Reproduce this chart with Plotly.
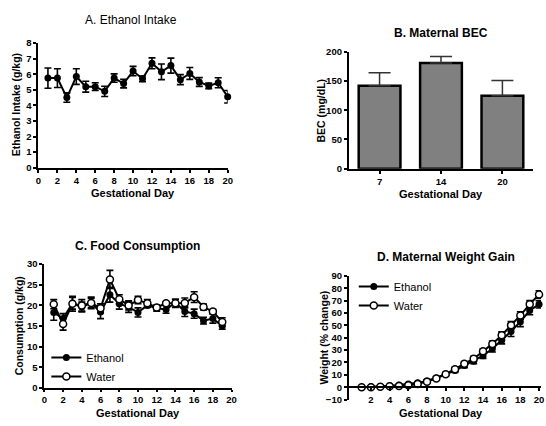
import plotly.graph_objects as go

W, H = 546, 426

# ---------- Data ----------
# A. Ethanol intake
days_a = list(range(1, 21))
eth_intake = [5.75, 5.75, 4.5, 5.85, 5.2, 5.2, 4.9, 5.75, 5.4, 6.2,
              5.7, 6.7, 6.15, 6.55, 5.65, 6.05, 5.5, 5.25, 5.45, 4.55]
eth_intake_err = [0.65, 0.6, 0.3, 0.5, 0.35, 0.25, 0.33, 0.27, 0.28, 0.3,
                  0.18, 0.35, 0.5, 0.48, 0.32, 0.38, 0.28, 0.18, 0.32, 0.4]

# B. Maternal BEC
bec_days = ["7", "14", "20"]
bec_vals = [142, 181, 125]
bec_err = [22, 11, 26]

# C. Food consumption
days_c = list(range(1, 20))
food_eth = [18.3, 16.8, 20.5, 19.6, 20.6, 18.4, 22.6, 20.4, 19.6, 18.3,
            20.0, 19.3, 19.0, 20.7, 18.5, 18.0, 16.3, 16.8, 15.0]
food_eth_err = [1.9, 1.2, 1.4, 1.2, 1.1, 1.6, 1.8, 1.3, 1.3, 1.1,
                0.5, 0.7, 0.9, 0.8, 1.2, 1.1, 0.8, 1.1, 0.8]
food_wat = [20.3, 15.5, 20.4, 20.0, 20.6, 19.3, 26.3, 21.5, 20.0, 21.3,
            20.5, 19.5, 20.5, 20.5, 20.6, 22.0, 19.6, 18.5, 16.0]
food_wat_err = [1.1, 1.5, 1.8, 1.4, 1.4, 1.1, 2.2, 1.1, 1.1, 0.9,
                0.9, 0.5, 0.4, 1.0, 1.2, 1.3, 0.7, 0.5, 1.0]

# D. Maternal weight gain
days_d = list(range(1, 21))
wt_eth = [0, 0.3, 0.5, 1.2, 1.8, 2.5, 3.5, 5.0, 7.5, 10.5,
          13.5, 17.5, 21.0, 25.5, 31.0, 38.0, 45.0, 53.0, 62.0, 67.0]
wt_eth_err = [0.3, 0.4, 0.5, 0.6, 0.7, 0.8, 0.9, 1.0, 1.2, 1.3,
              1.5, 1.7, 2.0, 2.2, 2.5, 3.0, 4.0, 4.0, 3.5, 3.0]
wt_wat = [0, 0, 0.3, 0.8, 1.0, 1.5, 2.5, 4.5, 7.0, 10.5,
          14.5, 19.0, 23.0, 29.0, 35.0, 42.0, 50.0, 58.0, 67.0, 75.0]
wt_wat_err = [0.3, 0.3, 0.4, 0.5, 0.6, 0.7, 0.8, 0.9, 1.1, 1.3,
              1.5, 1.7, 1.9, 2.1, 2.4, 2.7, 3.0, 3.0, 3.0, 3.0]

FONT = "Liberation Sans, Arial, sans-serif"

def px_x(p):
    return p / W

def px_y(p):
    return 1 - p / H

fig = go.Figure()

def err(arr, hw=3.5):
    return dict(type="data", array=arr, visible=True, color="black",
                thickness=1.6, width=hw)

# A
fig.add_trace(go.Scatter(x=days_a, y=eth_intake, mode="lines+markers",
                         line=dict(color="black", width=2),
                         marker=dict(color="black", size=7, symbol="circle"),
                         error_y=err(eth_intake_err),
                         xaxis="x", yaxis="y", showlegend=False, cliponaxis=False))

# B
fig.add_trace(go.Bar(x=bec_days, y=bec_vals,
                     marker=dict(color="#808080", line=dict(color="black", width=2.5)),
                     error_y=dict(type="data", array=bec_err, arrayminus=[0, 0, 0],
                                  symmetric=False, color="#333333", thickness=1.5, width=11),
                     xaxis="x2", yaxis="y2", showlegend=False))

# C
fig.add_trace(go.Scatter(x=days_c, y=food_eth, mode="lines+markers", name="Ethanol",
                         line=dict(color="black", width=2),
                         marker=dict(color="black", size=7),
                         error_y=err(food_eth_err),
                         xaxis="x3", yaxis="y3", legend="legend", cliponaxis=False))
fig.add_trace(go.Scatter(x=days_c, y=food_wat, mode="lines+markers", name="Water",
                         line=dict(color="black", width=2),
                         marker=dict(color="white", size=7, symbol="circle",
                                     line=dict(color="black", width=1.5)),
                         error_y=err(food_wat_err),
                         xaxis="x3", yaxis="y3", legend="legend", cliponaxis=False))

# D
fig.add_trace(go.Scatter(x=days_d, y=wt_eth, mode="lines+markers", name="Ethanol",
                         line=dict(color="black", width=2),
                         marker=dict(color="black", size=7),
                         error_y=err(wt_eth_err),
                         xaxis="x4", yaxis="y4", legend="legend2", cliponaxis=False))
fig.add_trace(go.Scatter(x=days_d, y=wt_wat, mode="lines+markers", name="Water",
                         line=dict(color="black", width=2),
                         marker=dict(color="white", size=7,
                                     line=dict(color="black", width=1.5)),
                         error_y=err(wt_wat_err),
                         xaxis="x4", yaxis="y4", legend="legend2", cliponaxis=False))

tickfont = dict(family=FONT, size=9.5, color="black", weight="bold")

def axis(**kw):
    base = dict(showline=True, linecolor="black", linewidth=2, ticks="outside",
                ticklen=3, tickwidth=2, tickcolor="black", showgrid=False,
                zeroline=False, tickfont=tickfont, fixedrange=True)
    base.update(kw)
    return base

# Domains (from pixel positions)
dA = dict(x=[px_x(36), px_x(228)], y=[px_y(166), px_y(38)])
dB = dict(x=[px_x(351), px_x(538)], y=[px_y(167), px_y(47)])
dC = dict(x=[px_x(42), px_x(232)], y=[px_y(392), px_y(265)])
dD = dict(x=[px_x(351), 1.0], y=[px_y(404), px_y(277)])

yD0 = dD["y"][0] + 0.1 * (dD["y"][1] - dD["y"][0])

fig.update_layout(
    width=W, height=H,
    margin=dict(l=0, r=0, t=0, b=0),
    paper_bgcolor="white", plot_bgcolor="white",
    font=dict(family=FONT, color="black"),
    xaxis=axis(domain=dA["x"], range=[0, 20], tickvals=list(range(0, 21, 2)), anchor="y"),
    yaxis=axis(domain=dA["y"], range=[0, 8], tickvals=list(range(0, 9)), anchor="x"),
    xaxis2=axis(domain=dB["x"], anchor="y2", type="category"),
    yaxis2=axis(domain=dB["y"], range=[0, 200], tickvals=[0, 50, 100, 150, 200], anchor="x2"),
    xaxis3=axis(domain=dC["x"], range=[0, 20], tickvals=list(range(0, 21, 2)), anchor="y3",
                ticklen=2),
    yaxis3=axis(domain=dC["y"], range=[0, 30], tickvals=list(range(0, 31, 5)), anchor="x3"),
    xaxis4=axis(domain=dD["x"], range=[-0.37, 20.21], tickvals=list(range(2, 21, 2)),
                anchor="free", position=yD0),
    yaxis4=axis(domain=dD["y"], range=[-10, 90], tickvals=list(range(-10, 91, 10)), anchor="x4"),
    bargap=0.32,
    legend=dict(x=px_x(44), y=px_y(346), xanchor="left", yanchor="top",
                bgcolor="rgba(0,0,0,0)", font=dict(family=FONT, size=11, color="black"),
                itemwidth=30, tracegroupgap=0),
    legend2=dict(x=px_x(356), y=px_y(273), xanchor="left", yanchor="top",
                 bgcolor="rgba(0,0,0,0)", font=dict(family=FONT, size=11, color="black"),
                 itemwidth=30, tracegroupgap=0),
)

def ann(text, x, y, size=11, bold=True, angle=0):
    fig.add_annotation(text=text, x=px_x(x), y=px_y(y), xref="paper", yref="paper",
                       showarrow=False, textangle=angle, xanchor="center", yanchor="middle",
                       borderpad=0,
                       font=dict(family=FONT, size=size, color="black",
                                 weight="bold" if bold else "normal"))

# Titles
ann("A. Ethanol Intake", 130, 14, size=12, bold=False)
ann("B. Maternal BEC", 445, 28, size=12)
ann("C. Food Consumption", 137, 246, size=12)
ann("D. Maternal Weight Gain", 450, 258, size=12)

# Axis titles
ann("Gestational Day", 132, 192)
ann("Gestational Day", 445, 193)
ann("Gestational Day", 137, 418)
ann("Gestational Day", 445, 418)
ann("Ethanol Intake (g/kg)", 14, 101, angle=-90, size=10.5)
ann("BEC (mg/dL)", 323, 107, angle=-90, size=10.5)
ann("Consumption (g/kg)", 16, 328, angle=-90, size=10.5)
ann("Weight (% change)", 326, 340, angle=-90, size=10.5)

fig.write_html("out.html")
